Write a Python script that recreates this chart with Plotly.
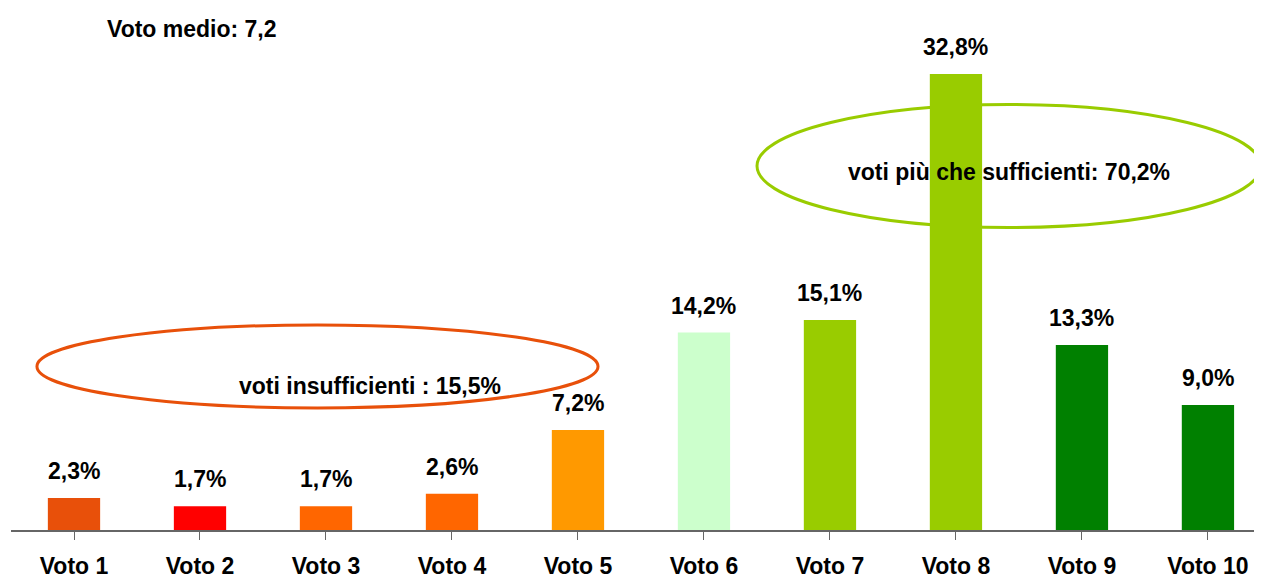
import plotly.graph_objects as go

# dati del grafico
categorie = ["Voto 1", "Voto 2", "Voto 3", "Voto 4", "Voto 5",
             "Voto 6", "Voto 7", "Voto 8", "Voto 9", "Voto 10"]
percentuali = [2.3, 1.7, 1.7, 2.6, 7.2, 14.2, 15.1, 32.8, 13.3, 9.0]
colori = ["#E8500A", "#FF0000", "#FF6600", "#FF6600", "#FF9900",
          "#CCFFCC", "#99CC00", "#99CC00", "#008000", "#008000"]
testo_medio = "Voto medio: 7,2"
testo_insuff = "voti insufficienti : 15,5%"
testo_suff = "voti più che sufficienti: 70,2%"

FONT = "Liberation Sans, Arial, sans-serif"

fig = go.Figure(go.Bar(
    x=list(range(len(categorie))),
    y=percentuali,
    marker=dict(color=colori, line=dict(width=0)),
    width=0.415,
    hoverinfo="skip",
))

# etichette dei valori sopra le barre
for i, v in enumerate(percentuali):
    fig.add_annotation(
        x=i, y=v, text=f"{v:.1f}%".replace(".", ","),
        showarrow=False, yanchor="middle", yshift=27,
        font=dict(family=FONT, size=23, color="black", weight="bold"),
    )

# ellissi
fig.add_shape(type="circle", xref="x", yref="y",
              x0=-0.294, x1=4.159, y0=8.78, y1=14.75,
              line=dict(color="#E8500A", width=3), layer="below")
fig.add_shape(type="circle", xref="x", yref="y",
              x0=5.421, x1=9.421, y0=21.76, y1=30.61,
              line=dict(color="#99CC00", width=3), layer="below")

fig.add_annotation(x=2.349, y=10.36, text=testo_insuff, showarrow=False,
                   font=dict(family=FONT, size=23, color="black", weight="bold"))
fig.add_annotation(x=7.421, y=25.76, text=testo_suff, showarrow=False,
                   font=dict(family=FONT, size=23, color="black", weight="bold"))
fig.add_annotation(x=0.246, y=36.04, text=testo_medio, showarrow=False,
                   xanchor="left", yanchor="middle",
                   font=dict(family=FONT, size=23, color="black", weight="bold"))

# la pagina ha 8px di margine: la figura e' ridotta di conseguenza
fig.update_layout(
    width=1254, height=568,
    margin=dict(l=3, r=0, t=0, b=46),
    paper_bgcolor="white", plot_bgcolor="white",
    showlegend=False,
    xaxis=dict(
        range=[-0.5, 9.429],
        automargin=False,
        tickmode="array",
        tickvals=list(range(len(categorie))),
        ticktext=categorie,
        showline=True, linecolor="#666666", linewidth=2,
        ticks="outside", ticklen=8, tickcolor="#666666", tickwidth=1,
        tickson="boundaries",
        ticklabelstandoff=6,
        tickfont=dict(family=FONT, size=23, color="black", weight="bold"),
        showgrid=False, zeroline=False,
    ),
    yaxis=dict(range=[0, 37.55], visible=False, automargin=False,
               showgrid=False, zeroline=False),
)

fig.write_html("out.html")
